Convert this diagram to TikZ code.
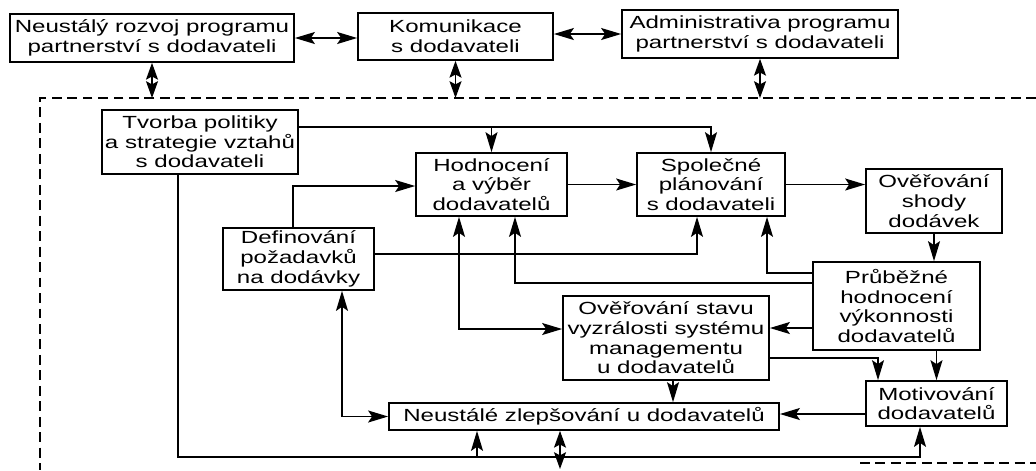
\documentclass[tikz,border=0pt]{standalone}
\usepackage{fontspec}
\setmainfont[FakeStretch=1.37]{Liberation Sans}
\usetikzlibrary{arrows.meta}
\tikzset{
  head/.tip={Stealth[length=0.5cm, width=0.3cm, inset=0.1cm]},
  shorthead/.tip={Stealth[length=0.42cm, width=0.3cm, inset=0.08cm]},
  box/.style={draw, line width=1.2pt, inner sep=0pt, align=center,
              font=\fontsize{12.5}{14}\selectfont},
  arr/.style={line width=1pt, -head},
  dbl/.style={line width=1pt, head-head},
  link/.style={line width=1pt, shorthead-shorthead},
  frame/.style={line width=1pt, dash pattern=on 7pt off 4pt}
}
\begin{document}
\begin{tikzpicture}[x=0.025cm, y=-0.025cm]
\useasboundingbox (0,0) rectangle (1036,470);

% programme level
\node[box, minimum width=7.1cm, minimum height=1.2cm] (rozvoj) at (152,38) {Neustálý rozvoj programu\\partnerství s dodavateli};
\node[box, minimum width=4.875cm, minimum height=1.175cm] (kom) at (455.5,36.5) {Komunikace\\s dodavateli};
\node[box, minimum width=6.9cm, minimum height=1.2cm] (admin) at (760,34) {Administrativa programu\\partnerství s dodavateli};

% process level
\node[box, minimum width=4.9cm, minimum height=1.6cm] (tvorba) at (200,142) {Tvorba politiky\\a strategie vztahů\\s dodavateli};
\node[box, minimum width=3.775cm, minimum height=1.575cm] (hodn) at (491.5,184.5) {Hodnocení\\a výběr\\dodavatelů};
\node[box, minimum width=3.7cm, minimum height=1.575cm] (spol) at (711,184.5) {Společné\\plánování\\s dodavateli};
\node[box, minimum width=3.4cm, minimum height=1.6cm] (shody) at (934,201) {Ověřování\\shody\\dodávek};
\node[box, minimum width=3.775cm, minimum height=1.55cm] (def) at (298.5,259) {Definování\\požadavků\\na dodávky};
\node[box, minimum width=4.175cm, minimum height=2.2cm] (prub) at (896.5,306) {Průběžné\\hodnocení\\výkonnosti\\dodavatelů};
\node[box, minimum width=5.15cm, minimum height=2.1cm] (stav) at (666,338) {Ověřování stavu\\vyzrálosti systému\\managementu\\u dodavatelů};
\node[box, minimum width=3.525cm, minimum height=1.125cm] (motiv) at (936.5,403.5) {Motivování\\dodavatelů};
\node[box, minimum width=9.75cm, minimum height=0.675cm] (neust) at (584,416.5) {Neustálé zlepšování u dodavatelů};

% dashed boundary of the process level
\coordinate (ftl) at (40,98);
\draw[frame] (1036,98) -- (ftl) -- (40,470);
\draw[frame] (860,463) -- (1036,463);

% links between programme boxes and to the boundary
\draw[dbl] (rozvoj.east) -- (rozvoj.east -| kom.west);
\draw[dbl] (admin.west -| kom.east) -- (admin.west);
\draw[link] (rozvoj.south) -- (rozvoj.south |- ftl);
\draw[link] (kom.south) -- (kom.south |- ftl);
\draw[link] (admin.south) -- (admin.south |- ftl);

% process flow
\draw[arr] (tvorba.east |- 0,127) -| (hodn.north);
\draw[arr] (tvorba.east |- 0,127) -| (spol.north);
\draw[arr] (hodn.east) -- (spol.west);
\draw[arr] (spol.east) -- (spol.east -| shody.west);
\draw[arr] (shody.south) -- (shody.south |- prub.north);
\draw[arr] (prub.south -| motiv.north) -- (motiv.north);
\draw[arr] (stav.east |- 0,358) -| (878,0 |- motiv.north);
\draw[arr] (prub.west |- 0,328) -- (stav.east |- 0,328);
\draw[arr] (prub.west |- 0,273) -| (767,0 |- spol.south);
\draw[arr] (prub.west |- 0,283) -| (515,0 |- hodn.south);
\draw[arr] (def.north -| 293,0) |- (hodn.west |- 0,186);
\draw[arr] (def.east |- 0,254) -| (697,0 |- spol.south);
\draw[dbl] (459,0 |- hodn.south) |- (stav.west |- 0,329);
\draw[arr] (motiv.west |- 0,414) -- (neust.east |- 0,414);
\draw[arr] (673,0 |- stav.south) -- (673,0 |- neust.north);
\draw[dbl] (342,0 |- def.south) |- (neust.west);

% feedback along the bottom
\coordinate (bl) at (178,457);
\coordinate (bj) at (477,457);
\draw[arr] (tvorba.south -| bl) -- (bl) -| (920,0 |- motiv.south);
\draw[arr] (bj) -- (bj |- neust.south);
\draw[link] (560,0 |- neust.south) -- (560,469);
\end{tikzpicture}
\end{document}
